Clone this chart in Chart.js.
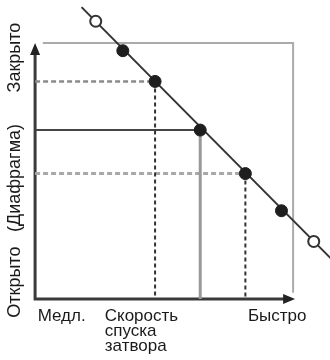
<!DOCTYPE html>
<html lang="ru">
  <head>
    <meta charset="UTF-8" />
    <title>Экспозиция</title>
    <script src="https://cdn.jsdelivr.net/npm/chart.js"></script>
    <style>
      html, body { margin: 0; padding: 0; background: #fff; }
      #wrap { width: 330px; height: 360px; }
    </style>
  </head>
  <body>
    <div id="wrap"><canvas id="exposure"></canvas></div>

    <script>
      // data (shutter speed -> x, aperture -> y, 0..10 inside the frame)
      const pointSpeed = [3.4, 4.65, 6.4, 8.15, 9.55];
      const pointAperture = [9.7, 8.5, 6.6, 4.9, 3.45];
      const limitSpeed = [2.35, 10.8];
      const limitAperture = [10.85, 2.25];
      const lineSpeed = [1.8, 11.45];
      const lineAperture = [11.4, 1.6];
      const speedTickValues = [0.1, 2.7, 8.25];
      const speedLabels = ["Медл.", ["Скорость", "спуска", "затвора"], "Быстро"];
      const apertureTickValues = [0.66, 4.73, 9.43];
      const apertureLabels = ["Открыто", "(Диафрагма)", "Закрыто"];

      const pts = (xs, ys) => xs.map((x, i) => ({ x: x, y: ys[i] }));
      const hGuide = (i) => [{ x: 0, y: pointAperture[i] }, { x: pointSpeed[i], y: pointAperture[i] }];
      const vGuide = (i) => [{ x: pointSpeed[i], y: pointAperture[i] }, { x: pointSpeed[i], y: 0 }];

      const FAMILY = "'Liberation Sans', Arial, sans-serif";

      const axesPlugin = {
        id: "axes",
        beforeDatasetsDraw: (chart) => {
          const ctx = chart.ctx;
          const { x, y } = chart.scales;
          const x0 = x.getPixelForValue(0);
          const y0 = y.getPixelForValue(0);
          const xEnd = x.getPixelForValue(10) + 2;
          const yEnd = y.getPixelForValue(10);
          ctx.save();
          ctx.strokeStyle = "#3a3a3a";
          ctx.fillStyle = "#222";
          ctx.lineWidth = 3;
          ctx.beginPath();
          ctx.moveTo(x0, yEnd + 10);
          ctx.lineTo(x0, y0);
          ctx.lineTo(xEnd - 10, y0);
          ctx.stroke();
          // arrow heads
          ctx.beginPath();
          ctx.moveTo(x0, yEnd);
          ctx.lineTo(x0 - 5, yEnd + 12);
          ctx.lineTo(x0 + 5, yEnd + 12);
          ctx.closePath();
          ctx.fill();
          ctx.beginPath();
          ctx.moveTo(xEnd, y0);
          ctx.lineTo(xEnd - 12, y0 - 5);
          ctx.lineTo(xEnd - 12, y0 + 5);
          ctx.closePath();
          ctx.fill();
          ctx.restore();
        },
        afterDraw: (chart) => {
          const ctx = chart.ctx;
          const { x, y } = chart.scales;
          const y0 = y.getPixelForValue(0);
          ctx.save();
          ctx.font = "17px " + FAMILY;
          ctx.fillStyle = "#1a1a1a";
          ctx.textAlign = "left";
          ctx.textBaseline = "top";
          speedLabels.forEach((lab, i) => {
            const lines = Array.isArray(lab) ? lab : [lab];
            lines.forEach((t, j) => {
              ctx.fillText(t, x.getPixelForValue(speedTickValues[i]), y0 + 9 + j * 15);
            });
          });
          ctx.font = "18px " + FAMILY;
          ctx.textAlign = "center";
          ctx.textBaseline = "alphabetic";
          apertureLabels.forEach((t, i) => {
            ctx.save();
            ctx.translate(20, y.getPixelForValue(apertureTickValues[i]));
            ctx.rotate(-Math.PI / 2);
            ctx.fillText(t, 0, 0);
            ctx.restore();
          });
          ctx.restore();
        },
      };

      new Chart(document.getElementById("exposure"), {
        type: "scatter",
        data: {
          datasets: [
            {
              data: pts(pointSpeed, pointAperture),
              pointRadius: 6,
              pointBackgroundColor: "#1e1e1e",
              pointBorderColor: "#1e1e1e",
              pointBorderWidth: 1,
              showLine: false,
            },
            {
              data: pts(limitSpeed, limitAperture),
              pointRadius: 5.5,
              pointBackgroundColor: "#fff",
              pointBorderColor: "#333",
              pointBorderWidth: 2,
              showLine: false,
            },
            {
              data: pts(lineSpeed, lineAperture),
              showLine: true,
              borderColor: "#333",
              borderWidth: 2,
              pointRadius: 0,
            },
            // guides
            { data: hGuide(1), showLine: true, borderColor: "#8a8a8a", borderWidth: 2.5, borderDash: [5, 3], pointRadius: 0 },
            { data: vGuide(1), showLine: true, borderColor: "#333", borderWidth: 2, borderDash: [4, 3], pointRadius: 0 },
            { data: hGuide(2), showLine: true, borderColor: "#444", borderWidth: 2, pointRadius: 0 },
            { data: vGuide(2), showLine: true, borderColor: "#999", borderWidth: 3, pointRadius: 0 },
            { data: hGuide(3), showLine: true, borderColor: "#a8a8a8", borderWidth: 3, borderDash: [5, 3], pointRadius: 0 },
            { data: vGuide(3), showLine: true, borderColor: "#333", borderWidth: 2, borderDash: [4, 3], pointRadius: 0 },
            // frame
            {
              data: [{ x: 0.3, y: 10 }, { x: 10, y: 10 }, { x: 10, y: 0.25 }],
              showLine: true,
              borderColor: "#ababab",
              borderWidth: 2,
              pointRadius: 0,
            },
          ],
        },
        options: {
          responsive: true,
          maintainAspectRatio: false,
          animation: false,
          events: [],
          layout: { padding: 0, autoPadding: false },
          scales: {
            // ranges chosen so the 0..10 frame sits at the reference's place on the canvas
            x: { type: "linear", min: -1.36, max: 11.43, display: false },
            y: { type: "linear", min: -2.38, max: 11.68, display: false },
          },
          plugins: {
            legend: { display: false },
            tooltip: { enabled: false },
          },
        },
        plugins: [axesPlugin],
      });
    </script>
  </body>
</html>
